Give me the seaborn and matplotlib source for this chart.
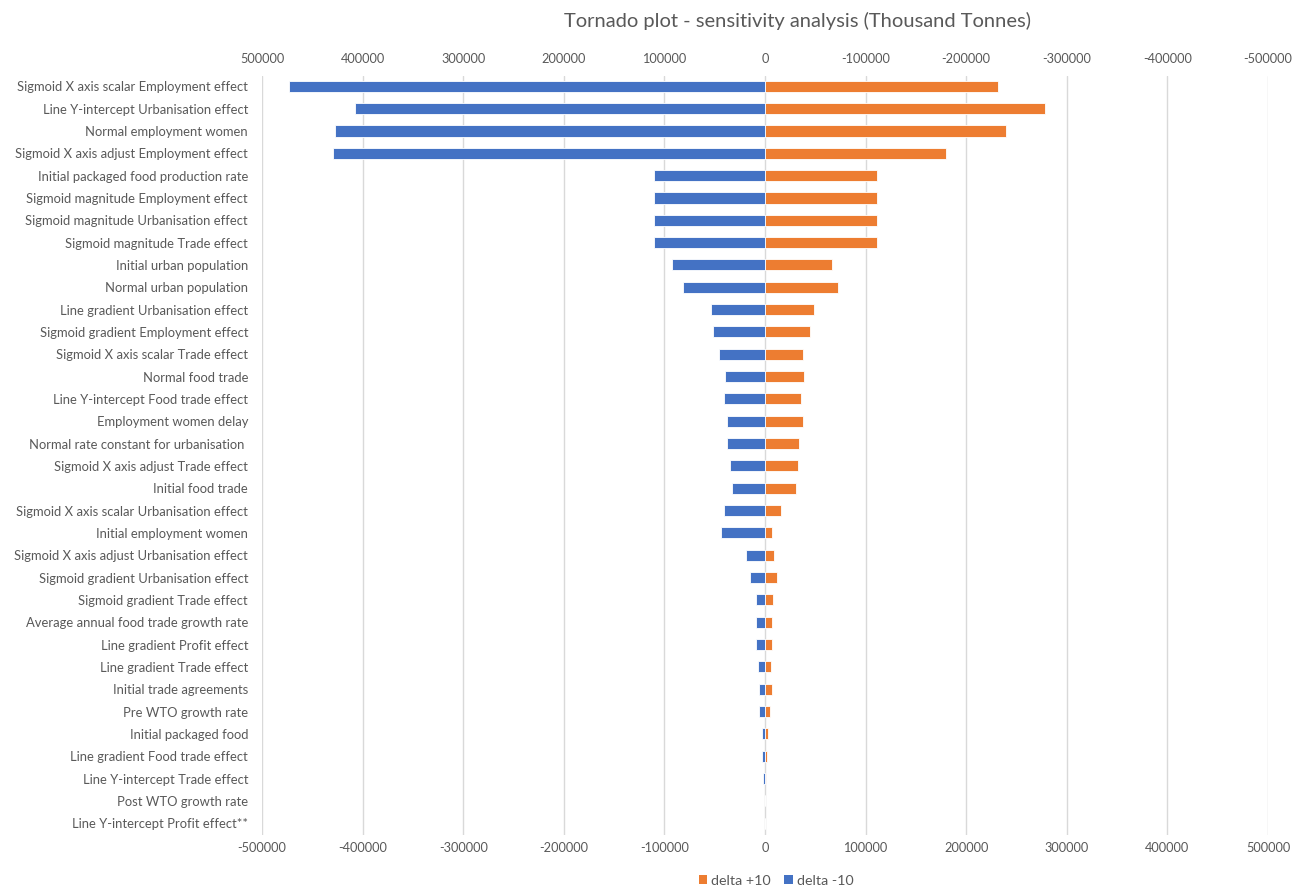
import numpy as np
import pandas as pd
import matplotlib
matplotlib.use("Agg")
import matplotlib.pyplot as plt
from matplotlib.patches import Patch
from matplotlib.ticker import FuncFormatter
import seaborn as sns

# Parameters tested in the sensitivity analysis (top to bottom)
parameters = [
    "Sigmoid X axis scalar Employment effect",
    "Line Y-intercept Urbanisation effect",
    "Normal employment women",
    "Sigmoid X axis adjust Employment effect",
    "Initial packaged food production rate",
    "Sigmoid magnitude Employment effect",
    "Sigmoid magnitude Urbanisation effect",
    "Sigmoid magnitude Trade effect",
    "Initial urban population",
    "Normal urban population",
    "Line gradient Urbanisation effect",
    "Sigmoid gradient Employment effect",
    "Sigmoid X axis scalar Trade effect",
    "Normal food trade",
    "Line Y-intercept Food trade effect",
    "Employment women delay",
    "Normal rate constant for urbanisation ",
    "Sigmoid X axis adjust Trade effect",
    "Initial food trade",
    "Sigmoid X axis scalar Urbanisation effect",
    "Initial employment women",
    "Sigmoid X axis adjust Urbanisation effect",
    "Sigmoid gradient Urbanisation effect",
    "Sigmoid gradient Trade effect",
    "Average annual food trade growth rate",
    "Line gradient Profit effect",
    "Line gradient Trade effect",
    "Initial trade agreements",
    "Pre WTO growth rate",
    "Initial packaged food",
    "Line gradient Food trade effect",
    "Line Y-intercept Trade effect",
    "Post WTO growth rate",
    "Line Y-intercept Profit effect**",
]

# Change in output (Thousand Tonnes) for a +10 change of the parameter
delta_plus10 = [
    232000, 278000, 240000, 180000, 111000, 111000, 111000, 111000,
    67000, 73000, 49000, 45000, 38000, 39000, 36000, 38000, 34000,
    33000, 31000, 16000, 7000, 8500, 11500, 7500, 7000, 7000, 6000,
    7000, 5000, 2500, 2300, 1200, 0, 0,
]

# Change in output (Thousand Tonnes) for a -10 change of the parameter
delta_minus10 = [
    473000, 408000, 427000, 429000, 110000, 110000, 110000, 110000,
    92000, 82000, 54000, 52000, 46000, 40000, 41000, 38000, 38000,
    35000, 33000, 41000, 44000, 19000, 15000, 9000, 8500, 8500, 7000,
    5500, 6000, 3000, 3000, 1600, 0, 0,
]

series_names = ["delta +10", "delta -10"]
series_colors = ["#ED7D31", "#4472C4"]
tick_values = list(range(-500000, 500001, 100000))

# Long-form table: the -10 series is drawn to the left of zero
df = pd.concat([
    pd.DataFrame({"parameter": parameters, "value": delta_plus10,
                  "series": series_names[0]}),
    pd.DataFrame({"parameter": parameters,
                  "value": [-v for v in delta_minus10],
                  "series": series_names[1]}),
], ignore_index=True)

sns.set_theme(style="white")
text_color = "#595959"
plt.rcParams["font.family"] = ["Lato", "DejaVu Sans"]
plt.rcParams["text.color"] = text_color
plt.rcParams["xtick.color"] = text_color
plt.rcParams["ytick.color"] = text_color

fig = plt.figure(figsize=(12.92, 8.88), dpi=100)
ax = fig.add_axes([262 / 1292, 1 - 835 / 888, (1268 - 262) / 1292, (835 - 76) / 888])

sns.barplot(
    data=df, x="value", y="parameter", hue="series", order=parameters,
    hue_order=series_names, palette=dict(zip(series_names, series_colors)),
    orient="h", dodge=False, width=0.5, legend=False, ax=ax,
    edgecolor="white", linewidth=0.6, saturation=1,
)

ax.set_xlim(-500000, 500000)
ax.set_ylim(len(parameters) - 0.47, -0.46)
ax.set_xticks(tick_values)
ax.xaxis.set_major_formatter(FuncFormatter(lambda v, p: f"{int(round(v))}"))
ax.grid(axis="x", color="#d9d9d9", linewidth=1.0)
ax.grid(axis="y", visible=False)
ax.set_axisbelow(True)
for s in ax.spines.values():
    s.set_visible(False)
ax.set_xlabel("")
ax.set_ylabel("")
ax.tick_params(axis="x", length=0, pad=5, labelsize=9.2)
ax.tick_params(axis="y", length=0, pad=10, labelsize=9.4)

# Top axis shows the same scale mirrored
top = ax.secondary_xaxis("top", functions=(lambda x: -x, lambda x: -x))
top.set_xticks(tick_values)
top.xaxis.set_major_formatter(FuncFormatter(lambda v, p: f"{int(round(v))}"))
top.tick_params(axis="x", length=0, pad=8, labelsize=9.2, colors=text_color)
for s in top.spines.values():
    s.set_visible(False)

fig.text(797 / 1292, 1 - 21 / 888, "Tornado plot - sensitivity analysis (Thousand Tonnes)",
         ha="center", va="center", fontsize=14.5, color=text_color)

handles = [Patch(facecolor=c, edgecolor="none") for c in series_colors]
fig.legend(handles, series_names, loc="center", ncol=2, frameon=False,
           bbox_to_anchor=(776 / 1292, 1 - 881 / 888), fontsize=10.3,
           handlelength=0.6, handleheight=0.6, handletextpad=0.3,
           columnspacing=0.9, labelcolor=text_color)

fig.savefig("out.png", dpi=100, facecolor="white")
